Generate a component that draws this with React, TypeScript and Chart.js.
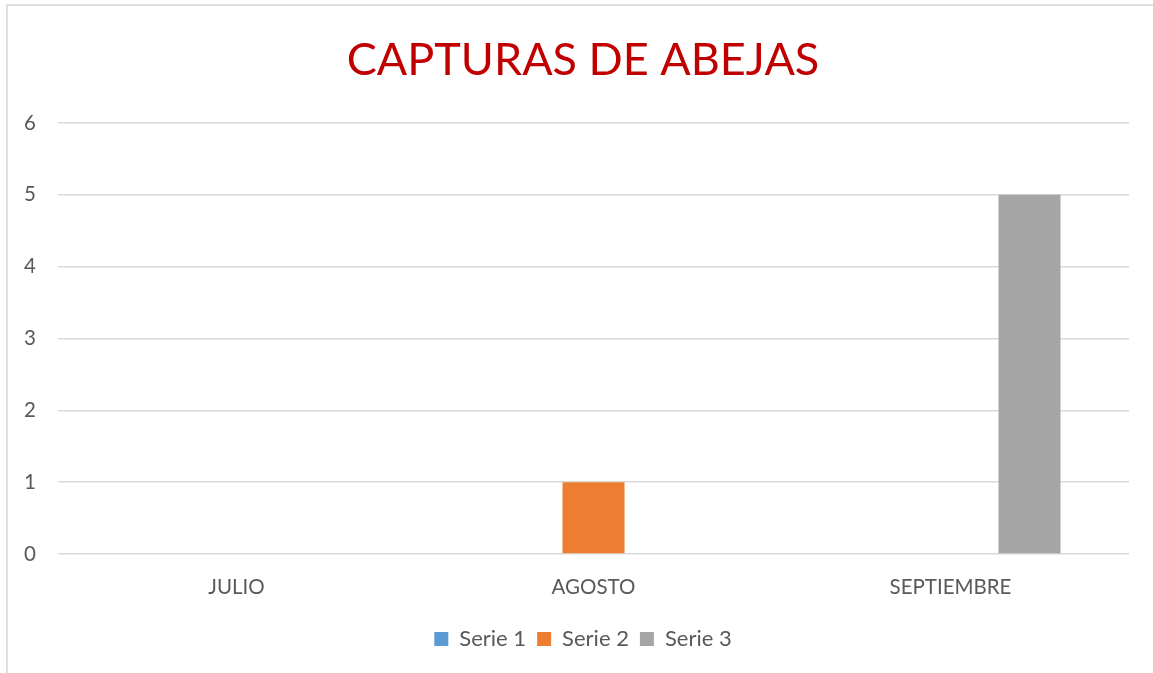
import React, { useEffect, useRef } from "react";
import { Chart, registerables } from "chart.js";

Chart.register(...registerables);

const titleText = "CAPTURAS DE ABEJAS";
const categories = ["JULIO", "AGOSTO", "SEPTIEMBRE"];
const seriesNames = ["Serie 1", "Serie 2", "Serie 3"];
const serie1 = [0, 0, 0];
const serie2 = [0, 1, 0];
const serie3 = [0, 0, 5];
const seriesColors = ["#5b9bd5", "#ed7d31", "#a5a5a5"];
const yMin = 0;
const yMax = 6;
const yStep = 1;

const FONT = "Lato, 'Open Sans', sans-serif";
const TEXT = "#595959";

export default function App() {
  const ref = useRef<HTMLCanvasElement | null>(null);

  useEffect(() => {
    const prevMargin = document.body.style.margin;
    document.body.style.margin = "0";
    if (!ref.current) return;
    const values = [serie1, serie2, serie3];
    const chart = new Chart(ref.current, {
      type: "bar",
      data: {
        labels: categories,
        datasets: seriesNames.map((name, i) => ({
          label: name,
          data: values[i],
          backgroundColor: seriesColors[i],
          borderWidth: 0,
          categoryPercentage: 0.664,
          barPercentage: 0.785,
        })),
      },
      options: {
        responsive: false,
        animation: false,
        devicePixelRatio: 1,
        layout: { padding: { left: 37, right: 24, top: 0, bottom: 13 } },
        plugins: {
          title: {
            display: true,
            text: titleText,
            color: "#c00000",
            font: { family: FONT, size: 45, weight: "normal" },
            padding: { top: 33.5, bottom: 35.5 },
          },
          legend: {
            display: true,
            position: "bottom",
            labels: {
              color: TEXT,
              font: { family: FONT, size: 22 },
              boxWidth: 14,
              boxHeight: 14,
              padding: 11,
            },
          },
          tooltip: { enabled: false },
        },
        scales: {
          x: {
            grid: { display: false, drawTicks: false },
            border: { display: false },
            ticks: {
              color: TEXT,
              font: { family: FONT, size: 20.5 },
              padding: 21,
              maxRotation: 0,
            },
            afterFit: (s: any) => {
              s.height = 63;
            },
          },
          y: {
            min: yMin,
            max: yMax,
            grid: { color: "#d9d9d9", lineWidth: 1.5, drawTicks: false },
            border: { display: false },
            ticks: {
              stepSize: yStep,
              color: TEXT,
              font: { family: FONT, size: 20.5 },
              mirror: true,
              padding: -34,
            },
            afterFit: (s: any) => {
              s.width = 21;
            },
          },
        },
      },
    });
    return () => {
      chart.destroy();
      document.body.style.margin = prevMargin;
    };
  }, []);

  return (
    <div style={{ position: "absolute", left: 0, top: 0, width: 1153, height: 673, background: "#fff", overflow: "hidden" }}>
      <div
        style={{
          position: "absolute",
          left: 6,
          top: 4,
          width: 1200,
          height: 700,
          borderLeft: "2px solid #e0e0e0",
          borderTop: "2px solid #e0e0e0",
        }}
      />
      <canvas ref={ref} width={1153} height={673} style={{ position: "absolute", left: 0, top: 0 }} />
    </div>
  );
}
